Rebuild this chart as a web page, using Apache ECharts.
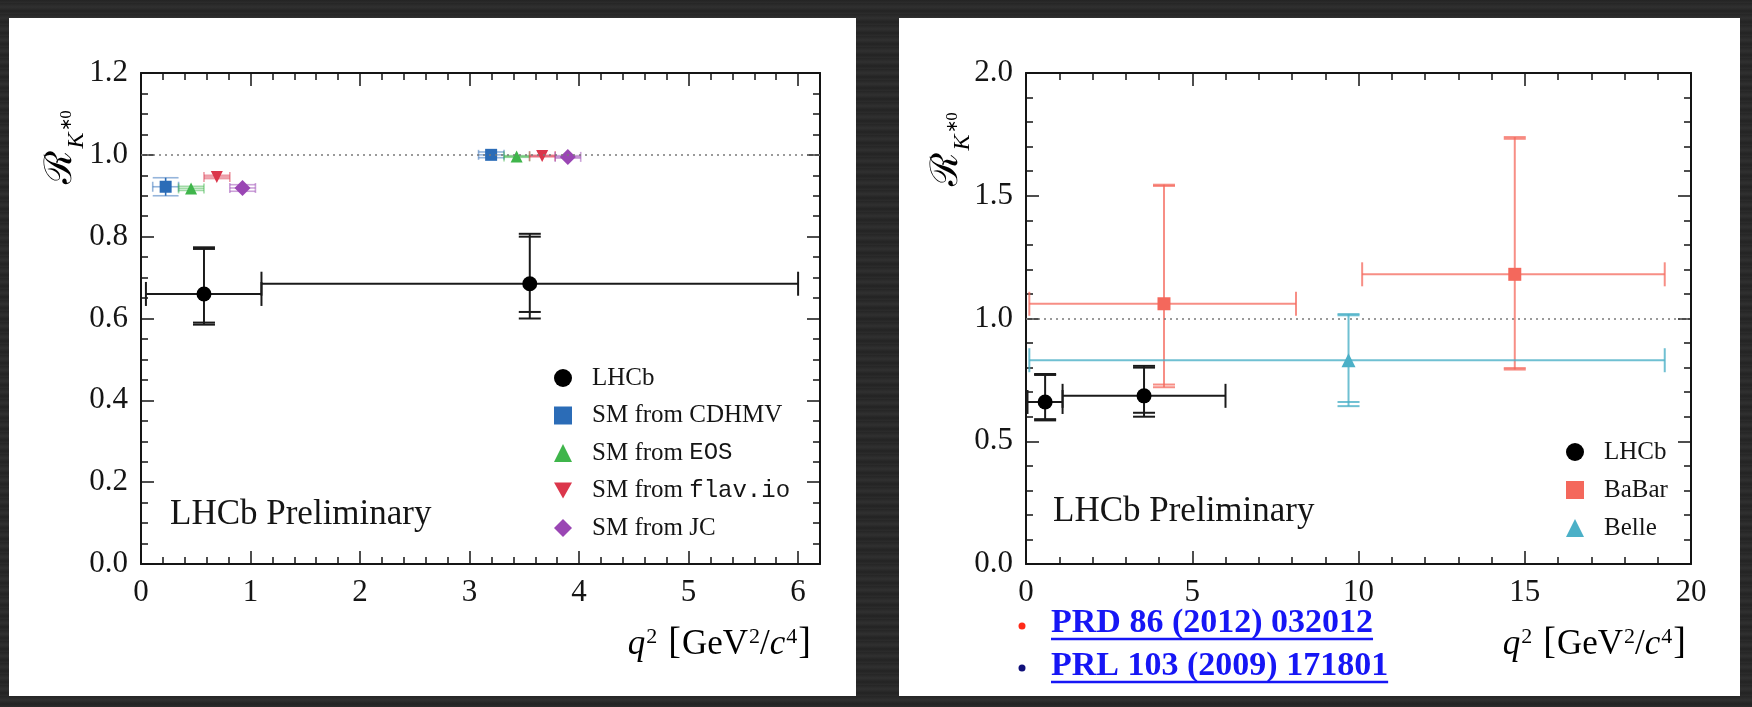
<!DOCTYPE html>
<html>
<head>
<meta charset="utf-8">
<script src="https://cdn.jsdelivr.net/npm/echarts@6/dist/echarts.min.js"></script>
<style>
  html, body { margin: 0; padding: 0; }
  body {
    width: 1752px; height: 707px; position: relative; overflow: hidden;
    background: #272727;
    background-image: repeating-linear-gradient(0deg, #2c2c2c 0px, #232323 3px, #303030 7px, #252525 11px);
  }
  .panel { position: absolute; background: #fff; }
  #chart { position: absolute; left: 0; top: 0; width: 1752px; height: 707px; }
</style>
</head>
<body>
<div class="panel" style="left:9px;top:18px;width:847px;height:678px"></div>
<div class="panel" style="left:899px;top:18px;width:841px;height:678px"></div>
<div id="chart"></div>
<script>
// ---- LHCb measurement (both panels) ----
var lhcbBinLo = [0.045, 1.1];
var lhcbBinHi = [1.1, 6.0];
var lhcbX = [0.575, 3.55];
var lhcbY = [0.66, 0.685];
var lhcbStatLo = [0.59, 0.616];
var lhcbStatHi = [0.77, 0.80];
var lhcbTotLo = [0.585, 0.60];
var lhcbTotHi = [0.774, 0.807];

// ---- SM predictions (left panel), low and high q2 bin ----
var smNames = ['CDHMV', 'EOS', 'flav.io', 'JC'];
var smLowXLo = [0.107, 0.343, 0.575, 0.811];
var smLowXHi = [0.343, 0.575, 0.811, 1.045];
var smLowX = [0.225, 0.457, 0.692, 0.927];
var smLowY = [0.922, 0.918, 0.946, 0.919];
var smLowErr = [0.022, 0.005, 0.004, 0.008];
var smHighXLo = [3.082, 3.315, 3.548, 3.782];
var smHighXHi = [3.315, 3.548, 3.782, 4.015];
var smHighX = [3.197, 3.43, 3.663, 3.897];
var smHighY = [1.0, 0.996, 0.997, 0.995];
var smHighErr = [0.007, 0.002, 0.002, 0.003];

// ---- BaBar (PRD 86 (2012) 032012) ----
var babarBinLo = [0.1, 10.11];
var babarBinHi = [8.12, 19.21];
var babarX = [4.15, 14.7];
var babarY = [1.06, 1.18];
var babarStatLo = [0.731, 0.798];
var babarStatHi = [1.54, 1.732];
var babarTotLo = [0.72, 0.792];
var babarTotHi = [1.545, 1.739];

// ---- Belle (PRL 103 (2009) 171801) ----
var belleBinLo = [0.1];
var belleBinHi = [19.21];
var belleX = [9.7];
var belleY = [0.83];
var belleStatLo = [0.66];
var belleStatHi = [1.013];
var belleTotLo = [0.643];
var belleTotHi = [1.018];

var refLinks = ['PRD 86 (2012) 032012', 'PRL 103 (2009) 171801'];

var ink = '#151515';
var serif = 'Liberation Serif';
var smColors = ['#2b6cb7', '#3fb54b', '#db364b', '#9a46b4'];
var smLight = ['rgba(43,108,183,0.5)', 'rgba(63,181,75,0.5)', 'rgba(219,54,75,0.5)', 'rgba(154,70,180,0.5)'];
var smSymbols = ['rect', 'triangle', 'path://M0,0 L10,0 L5,9 Z', 'diamond'];
var smSizes = [12, 12, 12, 16];
var babarColor = '#f4685c';
var belleColor = '#4bb0c7';

function frameAxes(gridIndex, min, max, major, minor, pos, labelled, fmt) {
  var base = {
    type: 'value', gridIndex: gridIndex, position: pos, min: min, max: max,
    splitLine: { show: false }
  };
  var majorAxis = Object.assign({}, base, {
    interval: major,
    axisLine: { show: true, onZero: false, lineStyle: { color: ink, width: 2 } },
    axisTick: { show: true, inside: true, length: 13, lineStyle: { color: ink, width: 1.5 } },
    axisLabel: { show: labelled, color: ink, fontFamily: serif, fontSize: 31, margin: 13, formatter: fmt }
  });
  var minorAxis = Object.assign({}, base, {
    interval: minor,
    axisLine: { show: false, onZero: false },
    axisTick: { show: true, inside: true, length: 7, lineStyle: { color: ink, width: 1.5 } },
    axisLabel: { show: false }
  });
  return [majorAxis, minorAxis];
}
function fmtX(v) { return Math.abs(v - Math.round(v)) < 1e-6 ? String(Math.round(v)) : ''; }
function fmtY(v) { return v.toFixed(1); }

var xAxes = [].concat(
  frameAxes(0, 0, 6.2, 1, 0.2, 'bottom', true, fmtX),
  frameAxes(0, 0, 6.2, 1, 0.2, 'top', false, fmtX),
  frameAxes(1, 0, 20, 5, 1, 'bottom', true, fmtX),
  frameAxes(1, 0, 20, 5, 1, 'top', false, fmtX)
);
var yAxes = [].concat(
  frameAxes(0, 0, 1.2, 0.2, 0.05, 'left', true, fmtY),
  frameAxes(0, 0, 1.2, 0.2, 0.05, 'right', false, fmtY),
  frameAxes(1, 0, 2, 0.5, 0.1, 'left', true, fmtY),
  frameAxes(1, 0, 2, 0.5, 0.1, 'right', false, fmtY)
);

// error bars: [x, y, xlo, xhi, statLo, statHi, totLo, totHi]
function errData(x, y, lo, hi, sl, sh, tl, th) {
  return x.map(function(v, i) { return [v, y[i], lo[i], hi[i], sl[i], sh[i], tl[i], th[i]]; });
}
function errRender(color, width) {
  return function(params, api) {
    var c = api.coord([api.value(0), api.value(1)]);
    var xl = api.coord([api.value(2), api.value(1)])[0];
    var xh = api.coord([api.value(3), api.value(1)])[0];
    var ys = [4, 5, 6, 7].map(function(k) { return api.coord([api.value(0), api.value(k)])[1]; });
    var st = { stroke: color, lineWidth: width };
    var kids = [
      { type: 'line', shape: { x1: xl, y1: c[1], x2: xh, y2: c[1] }, style: st },
      { type: 'line', shape: { x1: xl, y1: c[1] - 12, x2: xl, y2: c[1] + 12 }, style: st },
      { type: 'line', shape: { x1: xh, y1: c[1] - 12, x2: xh, y2: c[1] + 12 }, style: st },
      { type: 'line', shape: { x1: c[0], y1: Math.min.apply(null, ys), x2: c[0], y2: Math.max.apply(null, ys) }, style: st }
    ];
    ys.forEach(function(y) {
      kids.push({ type: 'line', shape: { x1: c[0] - 11, y1: y, x2: c[0] + 11, y2: y }, style: st });
    });
    return { type: 'group', children: kids };
  };
}
// SM error bar with wide caps: [xlo, xhi, ylo, yhi, x, y]
function smRender(k) {
  return function(params, api) {
    var p0 = api.coord([api.value(0), api.value(3)]);
    var p1 = api.coord([api.value(1), api.value(2)]);
    var c = api.coord([api.value(4), api.value(5)]);
    var lt = { stroke: smLight[k], lineWidth: 1.6 };
    return { type: 'group', children: [
      { type: 'line', shape: { x1: p0[0], y1: p0[1], x2: p1[0], y2: p0[1] }, style: lt },
      { type: 'line', shape: { x1: p0[0], y1: p1[1], x2: p1[0], y2: p1[1] }, style: lt },
      { type: 'line', shape: { x1: p0[0], y1: c[1], x2: p1[0], y2: c[1] }, style: lt },
      { type: 'line', shape: { x1: p0[0], y1: c[1] - 5, x2: p0[0], y2: c[1] + 5 }, style: lt },
      { type: 'line', shape: { x1: p1[0], y1: c[1] - 5, x2: p1[0], y2: c[1] + 5 }, style: lt },
      { type: 'line', shape: { x1: c[0], y1: p0[1], x2: c[0], y2: p1[1] }, style: { stroke: smColors[k], lineWidth: 1.6 } }
    ] };
  };
}

var series = [];
var dotted = {
  silent: true, symbol: 'none', label: { show: false },
  lineStyle: { type: [2, 4], color: '#7a7a7a', width: 1.6 },
  data: [{ yAxis: 1 }]
};

// left panel
smNames.forEach(function(n, k) {
  series.push({
    type: 'custom', xAxisIndex: 0, yAxisIndex: 0, z: 2,
    renderItem: smRender(k),
    data: [
      [smLowXLo[k], smLowXHi[k], smLowY[k] - smLowErr[k], smLowY[k] + smLowErr[k], smLowX[k], smLowY[k]],
      [smHighXLo[k], smHighXHi[k], smHighY[k] - smHighErr[k], smHighY[k] + smHighErr[k], smHighX[k], smHighY[k]]
    ]
  });
  series.push({
    type: 'scatter', name: 'SM from ' + n, xAxisIndex: 0, yAxisIndex: 0, z: 4,
    symbol: smSymbols[k], symbolSize: smSizes[k], itemStyle: { color: smColors[k], opacity: 1 },
    data: [[smLowX[k], smLowY[k]], [smHighX[k], smHighY[k]]]
  });
});
series.push({
  type: 'custom', xAxisIndex: 0, yAxisIndex: 0, z: 3,
  renderItem: errRender('#1a1a1a', 2),
  data: errData(lhcbX, lhcbY, lhcbBinLo, lhcbBinHi, lhcbStatLo, lhcbStatHi, lhcbTotLo, lhcbTotHi),
  markLine: dotted
});
series.push({
  type: 'scatter', name: 'LHCb', xAxisIndex: 0, yAxisIndex: 0, z: 5,
  symbol: 'circle', symbolSize: 15, itemStyle: { color: '#000', opacity: 1 },
  data: lhcbX.map(function(v, i) { return [v, lhcbY[i]]; })
});

// right panel
series.push({
  type: 'custom', xAxisIndex: 4, yAxisIndex: 4, z: 3,
  renderItem: errRender('rgba(244,104,92,0.75)', 2),
  data: errData(babarX, babarY, babarBinLo, babarBinHi, babarStatLo, babarStatHi, babarTotLo, babarTotHi),
  markLine: dotted
});
series.push({
  type: 'custom', xAxisIndex: 4, yAxisIndex: 4, z: 3,
  renderItem: errRender('rgba(75,176,199,0.8)', 2),
  data: errData(belleX, belleY, belleBinLo, belleBinHi, belleStatLo, belleStatHi, belleTotLo, belleTotHi)
});
series.push({
  type: 'custom', xAxisIndex: 4, yAxisIndex: 4, z: 3,
  renderItem: errRender('#1a1a1a', 2),
  data: errData(lhcbX, lhcbY, lhcbBinLo, lhcbBinHi, lhcbStatLo, lhcbStatHi, lhcbTotLo, lhcbTotHi)
});
series.push({
  type: 'scatter', name: 'BaBar', xAxisIndex: 4, yAxisIndex: 4, z: 5,
  symbol: 'rect', symbolSize: 13, itemStyle: { color: babarColor, opacity: 1 },
  data: babarX.map(function(v, i) { return [v, babarY[i]]; })
});
series.push({
  type: 'scatter', name: 'Belle', xAxisIndex: 4, yAxisIndex: 4, z: 5,
  symbol: 'triangle', symbolSize: 14, itemStyle: { color: belleColor, opacity: 1 },
  data: belleX.map(function(v, i) { return [v, belleY[i]]; })
});
series.push({
  type: 'scatter', name: 'LHCb', xAxisIndex: 4, yAxisIndex: 4, z: 5,
  symbol: 'circle', symbolSize: 15, itemStyle: { color: '#000', opacity: 1 },
  data: lhcbX.map(function(v, i) { return [v, lhcbY[i]]; })
});

var legendText = {
  color: ink, fontFamily: serif, fontSize: 25, lineHeight: 26, padding: [0, 0, 0, 15],
  rich: {
    r: { color: ink, fontFamily: serif, fontSize: 25, lineHeight: 26 },
    m: { color: ink, fontFamily: 'Liberation Mono', fontSize: 24, lineHeight: 26 }
  }
};
function legendFmt(name) {
  if (name === 'SM from EOS') return '{r|SM from }{m|EOS}';
  if (name === 'SM from flav.io') return '{r|SM from }{m|flav.io}';
  return name;
}

var xTitleRich = {
  i: { fontFamily: serif, fontStyle: 'italic', fontSize: 35, color: ink, verticalAlign: 'bottom', lineHeight: 40 },
  n: { fontFamily: serif, fontSize: 35, color: ink, verticalAlign: 'bottom', lineHeight: 40 },
  b: { fontFamily: serif, fontSize: 38, color: ink, verticalAlign: 'bottom', lineHeight: 40, padding: [0, 1, 0, 1] },
  w: { fontFamily: serif, fontSize: 35, color: ink, verticalAlign: 'bottom', lineHeight: 40, width: 10 },
  s: { fontFamily: serif, fontSize: 22, color: ink, verticalAlign: 'bottom', lineHeight: 40, padding: [0, 0, 14, 1] }
};
var xTitle = '{i|q}{s|2}{w| }{b|[}{n|GeV}{s|2}{n|/}{i|c}{s|4}{b|]}';
var yTitleRich = {
  R: { fontFamily: 'DejaVu Serif', fontSize: 38, color: ink, verticalAlign: 'bottom', lineHeight: 50, padding: [0, 2, 9, 0] },
  K: { fontFamily: serif, fontStyle: 'italic', fontSize: 24, color: ink, verticalAlign: 'bottom', lineHeight: 50 },
  s: { fontFamily: serif, fontSize: 16, color: ink, verticalAlign: 'bottom', lineHeight: 50, padding: [0, 0, 14, 1] }
};
var yTitle = '{R|ℛ}{K|K}{s|∗0}';

var linkFont = 'bold 34px Liberation Serif';
var linkStyle = { fill: '#1616f5', font: linkFont, textVerticalAlign: 'middle' };
var measure = document.createElement('canvas').getContext('2d');
measure.font = linkFont;
var linkW = refLinks.map(function(t) { return measure.measureText(t).width; });

var chart = echarts.init(document.getElementById('chart'), null, { renderer: 'canvas' });
chart.setOption({
  animation: false,
  backgroundColor: 'transparent',
  grid: [
    { left: 141, top: 73, width: 679, height: 491, outerBoundsMode: 'none' },
    { left: 1026, top: 73, width: 665, height: 491, outerBoundsMode: 'none' }
  ],
  xAxis: xAxes,
  yAxis: yAxes,
  legend: [
    {
      orient: 'vertical', left: 549, top: 360, itemWidth: 18, itemHeight: 18, itemGap: 11.5,
      selectedMode: false, textStyle: legendText, formatter: legendFmt,
      data: [
        { name: 'LHCb', icon: 'circle' },
        { name: 'SM from CDHMV', icon: 'rect' },
        { name: 'SM from EOS', icon: 'triangle' },
        { name: 'SM from flav.io', icon: 'path://M0,0 L10,0 L5,9 Z' },
        { name: 'SM from JC', icon: 'diamond' }
      ]
    },
    {
      orient: 'vertical', left: 1561, top: 434, itemWidth: 18, itemHeight: 18, itemGap: 12,
      selectedMode: false, textStyle: legendText,
      data: [
        { name: 'LHCb', icon: 'circle' },
        { name: 'BaBar', icon: 'rect' },
        { name: 'Belle', icon: 'triangle' }
      ]
    }
  ],
  graphic: [
    { type: 'text', x: 170, y: 515, style: { text: 'LHCb Preliminary', fill: ink, fontFamily: serif, fontSize: 35, textVerticalAlign: 'middle' } },
    { type: 'text', x: 1053, y: 512, style: { text: 'LHCb Preliminary', fill: ink, fontFamily: serif, fontSize: 35, textVerticalAlign: 'middle' } },
    { type: 'text', x: 812, y: 642, style: { text: xTitle, rich: xTitleRich, textAlign: 'right', textVerticalAlign: 'middle' } },
    { type: 'text', x: 1687, y: 642, style: { text: xTitle, rich: xTitleRich, textAlign: 'right', textVerticalAlign: 'middle' } },
    { type: 'text', x: 64, y: 147, rotation: Math.PI / 2, style: { text: yTitle, rich: yTitleRich, textAlign: 'center', textVerticalAlign: 'middle' } },
    { type: 'text', x: 950, y: 149, rotation: Math.PI / 2, style: { text: yTitle, rich: yTitleRich, textAlign: 'center', textVerticalAlign: 'middle' } },
    { type: 'circle', shape: { cx: 1022, cy: 626, r: 3.5 }, style: { fill: '#ff2a18' } },
    { type: 'circle', shape: { cx: 1022, cy: 668, r: 3.5 }, style: { fill: '#10107a' } },
    { type: 'text', x: 1051, y: 623, style: Object.assign({ text: refLinks[0] }, linkStyle) },
    { type: 'text', x: 1051, y: 666, style: Object.assign({ text: refLinks[1] }, linkStyle) },
    { type: 'line', shape: { x1: 1051, y1: 639, x2: 1051 + linkW[0], y2: 639 }, style: { stroke: '#1616f5', lineWidth: 2.5 } },
    { type: 'line', shape: { x1: 1051, y1: 682, x2: 1051 + linkW[1], y2: 682 }, style: { stroke: '#1616f5', lineWidth: 2.5 } }
  ],
  series: series
});
</script>
</body>
</html>
